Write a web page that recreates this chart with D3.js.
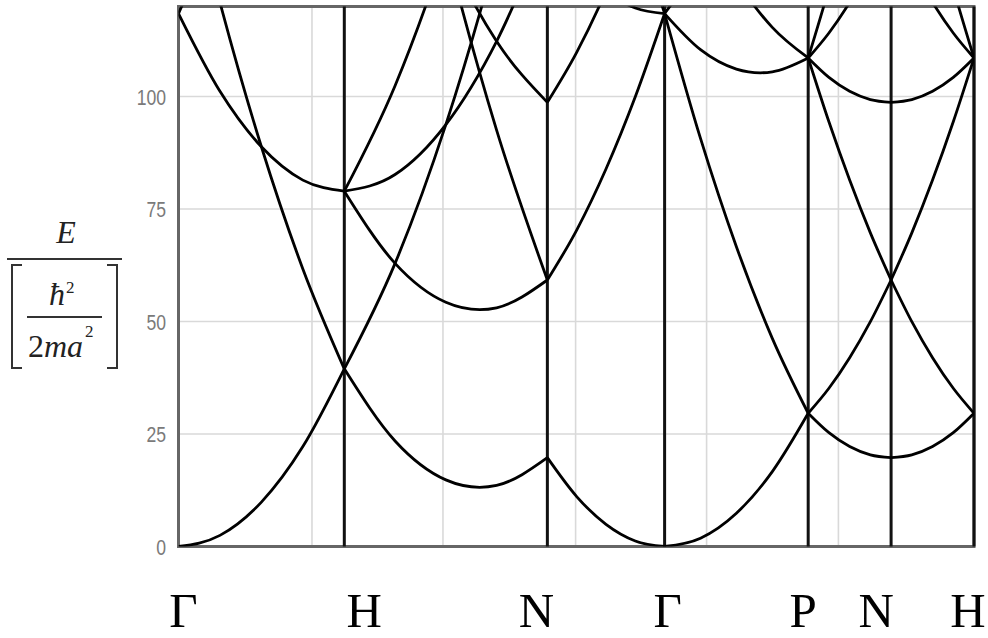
<!DOCTYPE html>
<html>
<head>
<meta charset="utf-8">
<script src="https://cdn.jsdelivr.net/npm/d3@7"></script>
<style>
  html, body { margin: 0; padding: 0; background: #fff; }
  svg { display: block; }
</style>
</head>
<body>
<svg id="chart" width="988" height="638"></svg>
<script>
// ---------------- DATA ----------------
// k-path symmetry points and segment lengths (units of 2π/a)
const pathLabels = ["Γ", "H", "N", "Γ", "P", "N", "H"];
const segmentLengths = [1, 1.2247, 0.7071, 0.8660, 0.5, 0.5];
// fractional positions along each segment where energies were read
const sampleS = [0, 0.25, 0.5, 0.75, 1];
const yTicks = [0, 25, 50, 75, 100];
const gridX = [0.805, 1.595, 2.395, 3.185, 3.98];

// Energies E / (ħ²/2ma²) per band, read at sampleS along each segment
const bandsGammaH = [
  [0, 2.47, 9.87, 22.21, 39.48],
  [157.91, 120.90, 88.83, 61.68, 39.48],
  [118.43, 101.16, 88.83, 81.42, 78.96],
  [118.43, 140.64, 167.78, 199.86, 236.87]
];
const bandsHN = [
  [39.48, 23.44, 14.80, 13.57, 19.74],
  [39.48, 62.92, 93.76, 132.00, 177.65],
  [78.96, 62.92, 54.28, 53.05, 59.22],
  [78.96, 82.66, 93.76, 112.27, 138.17],
  [78.96, 102.40, 133.24, 171.48, 217.13],
  [236.87, 181.35, 133.24, 92.53, 59.22],
  [197.39, 161.61, 133.24, 112.27, 98.70]
];
const bandsNGamma = [
  [19.74, 11.10, 4.93, 1.23, 0],
  [59.22, 70.32, 83.89, 99.93, 118.43],
  [138.17, 129.54, 123.37, 119.67, 118.43],
  [217.13, 188.75, 162.85, 139.41, 118.43],
  [98.70, 109.80, 123.37, 139.41, 157.91]
];
const bandsGammaP = [
  [0, 1.85, 7.40, 16.65, 29.61],
  [118.43, 90.68, 66.62, 46.26, 29.61],
  [118.43, 110.42, 106.10, 105.48, 108.56],
  [118.43, 130.15, 145.57, 164.70, 187.52],
  [157.91, 140.02, 125.84, 115.35, 108.56]
];
const bandsPN = [
  [29.61, 25.29, 22.21, 20.36, 19.74],
  [29.61, 35.16, 41.95, 49.96, 59.22],
  [108.56, 94.38, 81.42, 69.70, 59.22],
  [108.56, 114.11, 120.90, 128.92, 138.17],
  [108.56, 104.25, 101.16, 99.31, 98.70],
  [108.56, 123.99, 140.64, 158.53, 177.65]
];
const bandsNH = [
  [19.74, 20.36, 22.21, 25.29, 29.61],
  [59.22, 49.96, 41.95, 35.16, 29.61],
  [59.22, 69.70, 81.42, 94.38, 108.56],
  [138.17, 128.92, 120.90, 114.11, 108.56],
  [98.70, 99.31, 101.16, 104.25, 108.56],
  [177.65, 158.53, 140.64, 123.99, 108.56]
];
// band minima read inside segments: [segment, band, s, E]
const bandMinima = [
  [1, 0, 0.6667, 13.16],
  [1, 2, 0.6667, 52.64],
  [3, 2, 0.6667, 105.27]
];
const segments = [bandsGammaH, bandsHN, bandsNGamma, bandsGammaP, bandsPN, bandsNH];

// ---------------- LAYOUT ----------------
const svg = d3.select("#chart");
const plot = { left: 178.5, right: 974, top: 6.5, bottom: 546.5 };
const cum = [0];
segmentLengths.forEach(l => cum.push(cum[cum.length - 1] + l));

const x = d3.scaleLinear().domain([0, cum[cum.length - 1]]).range([plot.left, plot.right]);
const y = d3.scaleLinear().domain([0, 120]).range([plot.bottom, plot.top]);

svg.append("rect").attr("width", 988).attr("height", 638).attr("fill", "#fff");

svg.append("defs").append("clipPath").attr("id", "clip")
  .append("rect")
  .attr("x", plot.left).attr("y", plot.top)
  .attr("width", plot.right - plot.left).attr("height", plot.bottom - plot.top);

// grid
const grid = svg.append("g").attr("stroke", "#d9d9d9").attr("stroke-width", 1.6);
grid.selectAll("line.h").data(yTicks.filter(d => d > 0)).join("line")
  .attr("x1", plot.left).attr("x2", plot.right)
  .attr("y1", d => y(d)).attr("y2", d => y(d));
grid.selectAll("line.v").data(gridX).join("line")
  .attr("x1", d => x(d)).attr("x2", d => x(d))
  .attr("y1", plot.top).attr("y2", plot.bottom);

// y tick labels
svg.append("g").selectAll("text").data(yTicks).join("text")
  .attr("transform", d => `translate(166,${y(d) + 8}) scale(0.8,1)`)
  .attr("text-anchor", "end")
  .attr("font-family", "'Liberation Sans', Arial, sans-serif")
  .attr("font-size", 22)
  .attr("fill", "#7a7a7a")
  .text(d => d);

// frame
svg.append("rect")
  .attr("x", plot.left).attr("y", plot.top)
  .attr("width", plot.right - plot.left).attr("height", plot.bottom - plot.top)
  .attr("fill", "none").attr("stroke", "#666").attr("stroke-width", 3);

// symmetry-point vertical lines
svg.append("g").selectAll("line").data(cum.slice(1)).join("line")
  .attr("x1", d => x(d)).attr("x2", d => x(d))
  .attr("y1", plot.top).attr("y2", plot.bottom)
  .attr("stroke", "#111").attr("stroke-width", 3);

// bands
const line = d3.line()
  .x(d => x(d[0])).y(d => y(d[1]))
  .curve(d3.curveMonotoneX);

const bandG = svg.append("g").attr("clip-path", "url(#clip)");
segments.forEach((bands, si) => {
  bands.forEach((vals, bi) => {
    let pts = vals.map((e, j) => [sampleS[j], e]);
    bandMinima.filter(m => m[0] === si && m[1] === bi).forEach(m => pts.push([m[2], m[3]]));
    pts.sort((a, b) => a[0] - b[0]);
    pts = pts.map(p => [cum[si] + p[0] * segmentLengths[si], p[1]]);
    bandG.append("path")
      .attr("d", line(pts))
      .attr("fill", "none")
      .attr("stroke", "#000")
      .attr("stroke-width", 2.8)
      .attr("stroke-linejoin", "round");
  });
});

// bottom symmetry labels
const labelNudge = [5, 20, -11, 3, -5, -15, -6];
svg.append("g").selectAll("text").data(pathLabels).join("text")
  .attr("x", (d, i) => x(cum[i]) + labelNudge[i])
  .attr("y", 627)
  .attr("text-anchor", "middle")
  .attr("font-family", "'Liberation Serif', 'Times New Roman', serif")
  .attr("font-size", 49)
  .attr("fill", "#000")
  .text(d => d);

// y axis title: E / [ħ² / 2ma²]
const t = svg.append("g")
  .attr("font-family", "'Liberation Serif', 'Times New Roman', serif")
  .attr("fill", "#222");
t.append("text").attr("x", 66).attr("y", 243).attr("text-anchor", "middle")
  .attr("font-size", 32).attr("font-style", "italic").text("E");
t.append("line").attr("x1", 7).attr("x2", 122).attr("y1", 259).attr("y2", 259)
  .attr("stroke", "#333").attr("stroke-width", 2);
t.append("path").attr("d", "M22,265H12V368H22").attr("fill", "none")
  .attr("stroke", "#333").attr("stroke-width", 2);
t.append("path").attr("d", "M107,265H117V368H107").attr("fill", "none")
  .attr("stroke", "#333").attr("stroke-width", 2);
const hb = t.append("text").attr("x", 49).attr("y", 305).attr("font-size", 32);
hb.append("tspan").attr("font-style", "italic").text("ħ");
hb.append("tspan").attr("font-size", 17).attr("dy", -12).attr("dx", 1).text("2");
t.append("line").attr("x1", 27).attr("x2", 102).attr("y1", 317).attr("y2", 317)
  .attr("stroke", "#333").attr("stroke-width", 2);
const den = t.append("text").attr("x", 28).attr("y", 357).attr("font-size", 32);
den.append("tspan").text("2");
den.append("tspan").attr("font-style", "italic").text("ma");
den.append("tspan").attr("font-size", 17).attr("dy", -20).attr("dx", 2).text("2");
</script>
</body>
</html>
